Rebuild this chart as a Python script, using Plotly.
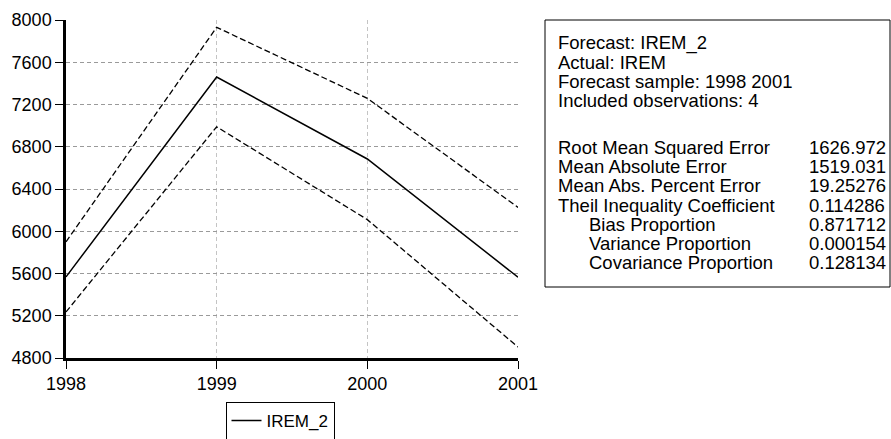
import plotly.graph_objects as go

# ---- data ----
years = [1998, 1999, 2000, 2001]
forecast = [5568, 7460, 6684, 5565]
upper = [5900, 7931, 7258, 6226]
lower = [5236, 6989, 6110, 4904]

x_ticks = [1998, 1999, 2000, 2001]
y_ticks = [4800, 5200, 5600, 6000, 6400, 6800, 7200, 7600, 8000]
x_grid = [1999, 2000]
y_grid = [5200, 5600, 6000, 6400, 6800, 7200, 7600]

header_lines = ["Forecast: IREM_2", "Actual: IREM", "Forecast sample: 1998 2001",
                "Included observations: 4"]
stat_labels = ["Root Mean Squared Error", "Mean Absolute Error", "Mean Abs. Percent Error",
               "Theil Inequality Coefficient", "Bias Proportion", "Variance Proportion",
               "Covariance Proportion"]
stat_values = ["1626.972", "1519.031", "19.25276", "0.114286", "0.871712", "0.000154", "0.128134"]
stat_indent = [False, False, False, False, True, True, True]

# ---- geometry (pixels) ----
W, H = 891, 439
L, R, T, B = 66, 518, 20, 358


def px(x):
    return (x - L) / (R - L)


def py(y):
    return (B - y) / (B - T)


FONT = "Liberation Sans, Arial, sans-serif"
FS = 18.5

fig = go.Figure()
fig.add_trace(go.Scatter(x=years, y=upper, mode="lines", xaxis="x2", yaxis="y2",
                         line=dict(color="black", width=1.3, dash="6px,3px"),
                         showlegend=False, hoverinfo="skip"))
fig.add_trace(go.Scatter(x=years, y=lower, mode="lines", xaxis="x2", yaxis="y2",
                         line=dict(color="black", width=1.3, dash="6px,3px"),
                         showlegend=False, hoverinfo="skip"))
fig.add_trace(go.Scatter(x=years, y=forecast, mode="lines", name="IREM_2",
                         line=dict(color="black", width=1.5)))

xr = [x_ticks[0], x_ticks[-1]]
yr = [y_ticks[0], y_ticks[-1]]

annotations = []
y0, dy = 43, 19.2
for i, t in enumerate(header_lines):
    annotations.append(dict(x=px(556), y=py(y0 + i * dy), xref="paper", yref="paper",
                            text=t, showarrow=False, xanchor="left", yanchor="middle",
                            font=dict(family=FONT, size=FS, color="black")))
y1 = 147.5
for i, (lab, val, ind) in enumerate(zip(stat_labels, stat_values, stat_indent)):
    annotations.append(dict(x=px(587 if ind else 556), y=py(y1 + i * dy), xref="paper",
                            yref="paper", text=lab, showarrow=False, xanchor="left",
                            yanchor="middle", font=dict(family=FONT, size=FS, color="black")))
    annotations.append(dict(x=px(807), y=py(y1 + i * dy), xref="paper",
                            yref="paper", text=val, showarrow=False, xanchor="left",
                            yanchor="middle", font=dict(family=FONT, size=FS, color="black")))

fig.update_layout(
    width=W, height=H,
    margin=dict(l=L, r=W - R, t=T, b=H - B, pad=0, autoexpand=False),
    paper_bgcolor="white", plot_bgcolor="white",
    font=dict(family=FONT, size=18, color="black"),
    xaxis=dict(range=xr, tickvals=x_ticks, ticktext=[str(v) for v in x_ticks],
               showgrid=False, zeroline=False, showline=True, linecolor="black",
               linewidth=2.5, ticks="outside", ticklen=8, tickwidth=1.2, tickcolor="black",
               ticklabelstandoff=0,
               tickfont=dict(family=FONT, size=18, color="black")),
    yaxis=dict(range=yr, tickvals=y_ticks, ticktext=[str(v) for v in y_ticks],
               showgrid=False, zeroline=False, showline=True, linecolor="black",
               linewidth=2.5, ticks="outside", ticklen=8, tickwidth=1.2, tickcolor="black",
               tickfont=dict(family=FONT, size=18, color="black")),
    xaxis2=dict(range=xr, overlaying="x", anchor="y2", tickvals=x_grid, showgrid=True,
                gridcolor="#c4c4c4", gridwidth=1, griddash="4px,3px",
                showticklabels=False, ticks="", zeroline=False, showline=False),
    yaxis2=dict(range=yr, overlaying="y", anchor="x2", tickvals=y_grid, showgrid=True,
                gridcolor="#9a9a9a", gridwidth=1, griddash="4px,3px",
                showticklabels=False, ticks="", zeroline=False, showline=False),
    legend=dict(x=px(280), y=py(421), xanchor="center", yanchor="middle",
                bordercolor="black", borderwidth=1, bgcolor="white",
                font=dict(family=FONT, size=17, color="black")),
    shapes=[dict(type="rect", xref="paper", yref="paper",
                 x0=px(545), x1=px(890), y0=py(287), y1=py(20),
                 line=dict(color="black", width=1), fillcolor="rgba(0,0,0,0)")],
    annotations=annotations,
    showlegend=True,
)

fig.write_html("out.html", config={"displayModeBar": False},
               post_script="document.body.style.margin='0';")
